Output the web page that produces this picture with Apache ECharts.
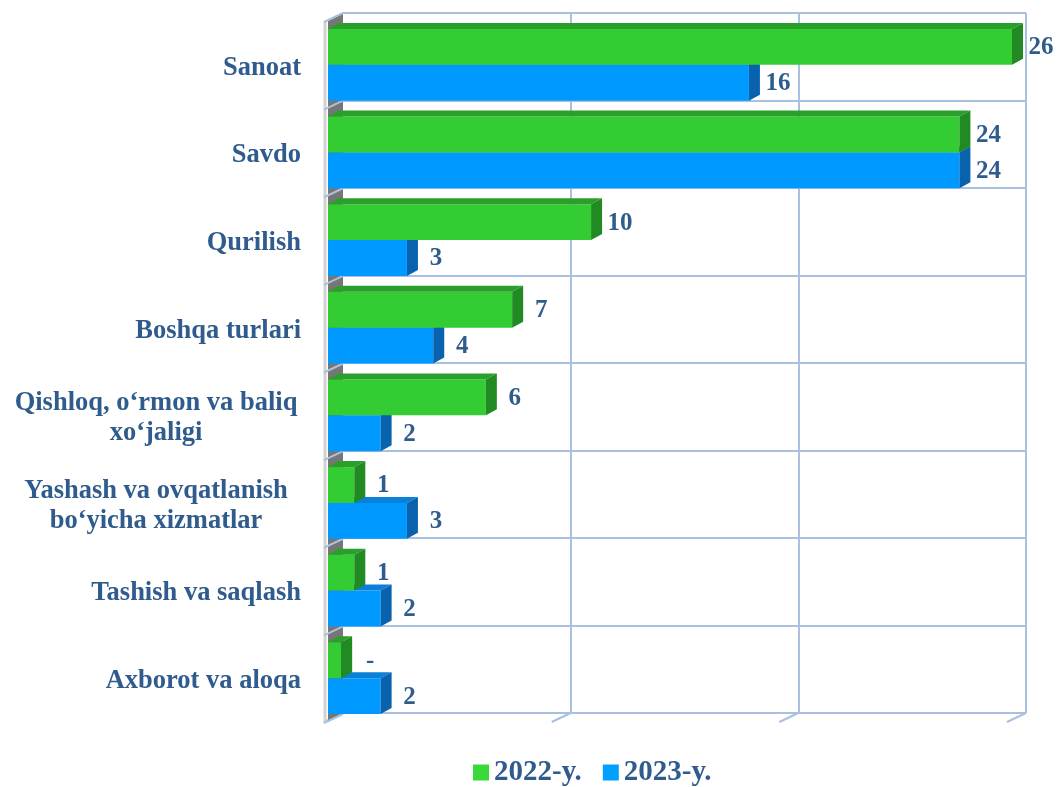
<!DOCTYPE html>
<html>
<head>
<meta charset="utf-8">
<script src="https://cdn.jsdelivr.net/npm/echarts@6/dist/echarts.min.js"></script>
<style>html,body{margin:0;padding:0;background:#fff}#c{width:1058px;height:787px}</style>
</head>
<body>
<div id="c"></div>
<script>
const categories = ['Sanoat', 'Savdo', 'Qurilish', 'Boshqa turlari', 'Qishloq, o‘rmon va baliq\nxo‘jaligi', 'Yashash va ovqatlanish\nbo‘yicha xizmatlar', 'Tashish va saqlash', 'Axborot va aloqa'];
const values2022 = [26, 24, 10, 7, 6, 1, 1, 0.5];
const values2023 = [16, 24, 3, 4, 2, 3, 2, 2];
const labels2022 = ['26', '24', '10', '7', '6', '1', '1', '-'];
const labels2023 = ['16', '24', '3', '4', '2', '3', '2', '2'];
const wallTicks = [0, 1, 2, 3];

const FONT = '"Liberation Serif", "Times New Roman", serif';
const TXT = '#2f5b8d';
const GRIDC = '#a9c0e1';
const DX = 11, DY = 6;          // bar depth
const WX = 15, WY = 8;          // wall depth

const chart = echarts.init(document.getElementById('c'), null, {renderer: 'canvas'});

function barRenderer(front, top, side, upper, labels) {
  return function (params, api) {
    const v = api.value(0), idx = api.value(1);
    const p0 = api.coord([0, idx]);
    const p1 = api.coord([v, idx]);
    const band = api.size([0, 1])[1];
    const h = band * 0.409;
    const yc = p0[1];
    const y0 = upper ? yc - h : yc;
    const y1 = y0 + h;
    const x0 = p0[0], x1 = p1[0];
    return {
      type: 'group',
      children: [
        {type: 'rect', shape: {x: x0, y: y0, width: x1 - x0, height: h}, style: {fill: front}},
        {type: 'polygon', shape: {points: [[x0, y0], [x1, y0], [x1 + DX, y0 - DY], [x0 + DX, y0 - DY]]}, style: {fill: top}},
        {type: 'polygon', shape: {points: [[x1, y0], [x1 + DX, y0 - DY], [x1 + DX, y1 - DY], [x1, y1]]}, style: {fill: side}},
        {type: 'text', style: {text: labels[params.dataIndex], x: x1 + DX + 18, y: (y0 + y1) / 2 + 1, align: 'center', verticalAlign: 'middle', font: 'bold 25px ' + FONT, fill: TXT}}
      ]
    };
  };
}

function wallRenderer(params, api) {
  const n = categories.length;
  const band = api.size([0, 1])[1];
  const x0 = api.coord([0, 0])[0];
  const top = api.coord([0, 0])[1] - band / 2;
  const bottom = api.coord([0, n - 1])[1] + band / 2;
  const children = [
    {type: 'polygon', shape: {points: [[x0, top], [x0 + WX, top - WY], [x0 + WX, bottom - WY], [x0, bottom]]}, style: {fill: '#767676'}},
    {type: 'line', shape: {x1: x0 - 3, y1: top + 1, x2: x0 - 3, y2: bottom + 1}, style: {stroke: '#d2d2d2', lineWidth: 3}}
  ];
  for (let k = 0; k <= n; k++) {
    const yb = top + k * band;
    children.push({type: 'line', shape: {x1: x0 - 4, y1: yb + 1, x2: x0 + WX, y2: yb - WY}, style: {stroke: GRIDC, lineWidth: 2}});
  }
  return {type: 'group', children};
}

function floorRenderer(params, api) {
  const v = api.value(0);
  const band = api.size([0, 1])[1];
  const p = api.coord([v, categories.length - 1]);
  const yb = p[1] + band / 2;
  return {type: 'line', shape: {x1: p[0], y1: yb, x2: p[0] - 19, y2: yb + 9}, style: {stroke: GRIDC, lineWidth: 2}};
}

const option = {
  backgroundColor: '#ffffff',
  animation: false,
  legend: {
    data: [
      {name: '2022-y.', itemStyle: {color: '#3ad93a'}},
      {name: '2023-y.', itemStyle: {color: '#00a0ff'}}
    ],
    left: 468, top: 753,
    icon: 'rect', itemWidth: 16, itemHeight: 16, itemGap: 21,
    textStyle: {fontFamily: FONT, fontWeight: 'bold', fontSize: 29, color: TXT}
  },
  grid: [
    {left: 328, right: 46, top: 21, bottom: 65},
    {left: 343, right: 32, top: 13, bottom: 74}
  ],
  xAxis: [
    {gridIndex: 0, type: 'value', min: 0, max: 26, show: false},
    {gridIndex: 1, type: 'value', min: 0, max: 3, interval: 1,
      axisLine: {show: false}, axisTick: {show: false}, axisLabel: {show: false},
      splitLine: {show: true, showMinLine: false, showMaxLine: true, lineStyle: {color: GRIDC, width: 2}}}
  ],
  yAxis: [
    {gridIndex: 0, type: 'category', data: categories, inverse: true,
      axisLine: {show: false}, axisTick: {show: false}, splitLine: {show: false},
      axisLabel: {
        margin: 27, align: 'right', padding: [6, 0, 0, 0],
        fontFamily: FONT, fontWeight: 'bold', fontSize: 26.5, color: TXT, lineHeight: 30,
        formatter: function (v) {
          return v.indexOf('\n') >= 0 ? v.split('\n').map(s => '{c|' + s + '}').join('\n') : v;
        },
        rich: {c: {width: 290, align: 'center', fontFamily: FONT, fontWeight: 'bold', fontSize: 26.5, color: TXT, lineHeight: 30}}
      }},
    {gridIndex: 1, type: 'category', data: categories, inverse: true,
      axisLine: {show: false}, axisTick: {show: false}, axisLabel: {show: false},
      splitLine: {show: true, lineStyle: {color: GRIDC, width: 2}}}
  ],
  series: [
    {type: 'custom', name: 'floor', xAxisIndex: 1, yAxisIndex: 1, renderItem: floorRenderer,
      data: wallTicks.map(v => [v, categories.length - 1]), encode: {x: 0, y: 1}, silent: true},
    {type: 'custom', name: 'wall', xAxisIndex: 0, yAxisIndex: 0, renderItem: wallRenderer,
      data: [[0, 0]], encode: {x: 0, y: 1}, silent: true},
    {type: 'custom', name: '2023-y.', xAxisIndex: 0, yAxisIndex: 0, itemStyle: {color: '#0099ff'},
      renderItem: barRenderer('#0099ff', '#0a80d8', '#0862ae', false, labels2023),
      data: values2023.map((v, i) => [v, i]), encode: {x: 0, y: 1}},
    {type: 'custom', name: '2022-y.', xAxisIndex: 0, yAxisIndex: 0, itemStyle: {color: '#33cc33'},
      renderItem: barRenderer('#33cc33', '#2b9f2b', '#228a22', true, labels2022),
      data: values2022.map((v, i) => [v, i]), encode: {x: 0, y: 1}}
  ]
};
chart.setOption(option);
</script>
</body>
</html>
